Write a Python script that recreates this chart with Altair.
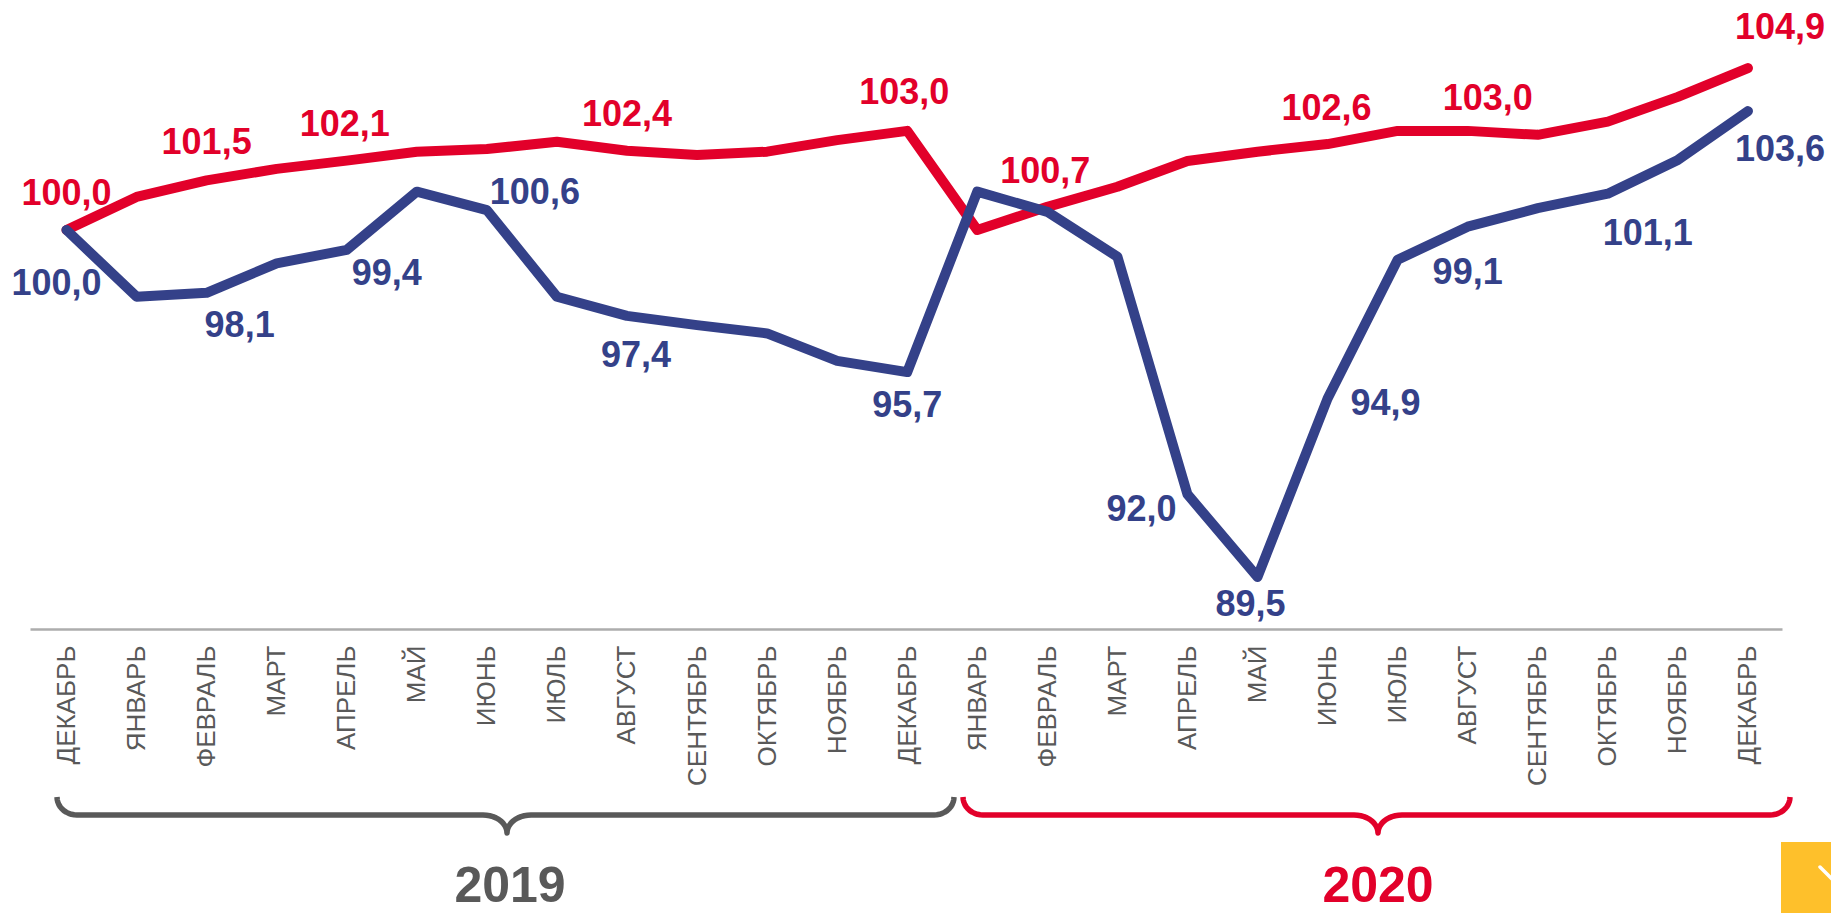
import altair as alt
import pandas as pd
import numpy as np

# ---------------- data ----------------
months = ["ДЕКАБРЬ", "ЯНВАРЬ", "ФЕВРАЛЬ", "МАРТ", "АПРЕЛЬ", "МАЙ", "ИЮНЬ", "ИЮЛЬ",
          "АВГУСТ", "СЕНТЯБРЬ", "ОКТЯБРЬ", "НОЯБРЬ", "ДЕКАБРЬ",
          "ЯНВАРЬ", "ФЕВРАЛЬ", "МАРТ", "АПРЕЛЬ", "МАЙ", "ИЮНЬ", "ИЮЛЬ",
          "АВГУСТ", "СЕНТЯБРЬ", "ОКТЯБРЬ", "НОЯБРЬ", "ДЕКАБРЬ"]

red_values = [100.0, 101.0, 101.5, 101.85, 102.1, 102.37, 102.45, 102.67, 102.4,
              102.27, 102.37, 102.72, 103.0,
              100.0, 100.7, 101.31, 102.09, 102.37, 102.6, 103.0, 103.0,
              102.88, 103.28, 104.03, 104.9]

blue_values = [100.0, 97.98, 98.1, 98.99, 99.4, 101.16, 100.6, 97.98, 97.4,
               97.12, 96.87, 96.04, 95.7,
               101.16, 100.55, 99.19, 92.0, 89.5, 94.9, 99.1, 100.1,
               100.66, 101.1, 102.12, 103.6]

red_label_idx = [0, 2, 4, 8, 12, 14, 18, 20, 24]
red_label_txt = ["100,0", "101,5", "102,1", "102,4", "103,0", "100,7", "102,6", "103,0", "104,9"]

blue_label_idx = [0, 2, 4, 6, 8, 12, 16, 17, 18, 19, 22, 24]
blue_label_txt = ["100,0", "98,1", "99,4", "100,6", "97,4", "95,7", "92,0", "89,5",
                  "94,9", "99,1", "101,1", "103,6"]

years = ["2019", "2020"]

# ---------------- style ----------------
RED = "#E2002A"
BLUE = "#344189"
GRAY = "#595959"
AXIS_GRAY = "#ADADAD"
YELLOW = "#FEC02B"
FONT = "Liberation Sans"

# label offsets (pixels) relative to their data point (centre of text)
red_offsets = [(0, -38), (0, -39), (-2, -38), (0, -38), (-3, -40), (-2, -37),
               (-1, -37), (20, -34), (32, -42)]
blue_offsets = [(-10, 52), (33, 31), (40, 22), (48, -19), (9, 38), (0, 32),
                (-46, 14), (-7, 26), (58, 3), (70, 11), (40, 38), (32, 37)]

PL, PT, PW, PH = 30, 0, 1752, 629          # plot area
X_DOM = [-0.521, 24.486]
Y_DOM = [87.924, 106.961]

df = pd.DataFrame({
    "i": list(range(len(months))) * 2,
    "v": red_values + blue_values,
    "s": ["r"] * len(red_values) + ["b"] * len(blue_values),
})

label_expr = "[" + ",".join("'" + m + "'" for m in months) + "][datum.value]"

x_enc = alt.X("i:Q", scale=alt.Scale(domain=X_DOM, nice=False, zero=False),
              axis=alt.Axis(values=list(range(len(months))), labelExpr=label_expr,
                            labelAngle=-90, labelFontSize=26, labelColor=GRAY,
                            labelFont=FONT, ticks=False, tickSize=0, labelPadding=16,
                            domainColor=AXIS_GRAY, domainWidth=2.5, grid=False,
                            title=None, labelFlush=False, labelOverlap=False))
y_enc = alt.Y("v:Q", scale=alt.Scale(domain=Y_DOM, nice=False, zero=False), axis=None)

red_line = alt.Chart(df[df.s == "r"]).mark_line(
    color=RED, strokeWidth=10, strokeCap="round", strokeJoin="round"
).encode(x=x_enc, y=y_enc)
blue_line = alt.Chart(df[df.s == "b"]).mark_line(
    color=BLUE, strokeWidth=10, strokeCap="round", strokeJoin="round"
).encode(x=alt.X("i:Q"), y=alt.Y("v:Q"))

layers = [red_line, blue_line]


def add_labels(idxs, txts, values, offsets, color):
    for k, (i, t) in enumerate(zip(idxs, txts)):
        dx, dy = offsets[k]
        d = pd.DataFrame({"i": [i], "v": [values[i]], "t": [t]})
        layers.append(
            alt.Chart(d).mark_text(
                font=FONT, fontSize=36, fontWeight="bold", color=color,
                align="center", baseline="alphabetic", dx=dx, dy=dy + 13
            ).encode(x=alt.X("i:Q"), y=alt.Y("v:Q"), text="t:N")
        )


add_labels(red_label_idx, red_label_txt, red_values, red_offsets, RED)
add_labels(blue_label_idx, blue_label_txt, blue_values, blue_offsets, BLUE)


# ---------------- braces (decoration, pixel space) ----------------
def brace(x0, xm, x1, y_top=797, y_mid=815, y_tip=833, rx=20, c=24):
    ry = y_mid - y_top
    b = y_tip - y_mid
    pts = []
    for th in np.linspace(np.pi, np.pi / 2, 12):
        pts.append((x0 + rx + rx * np.cos(th), y_top + ry * np.sin(th)))
    for th in np.linspace(-np.pi / 2, 0, 12):
        pts.append((xm - c + c * np.cos(th), y_tip + b * np.sin(th)))
    for th in np.linspace(np.pi, 1.5 * np.pi, 12):
        pts.append((xm + c + c * np.cos(th), y_tip + b * np.sin(th)))
    for th in np.linspace(np.pi / 2, 0, 12):
        pts.append((x1 - rx + rx * np.cos(th), y_top + ry * np.sin(th)))
    return pd.DataFrame({"px": [p[0] - PL for p in pts],
                         "py": [p[1] - PT for p in pts],
                         "o": list(range(len(pts)))})


for (x0, xm, x1), col in [((57, 507, 954), GRAY), ((963, 1378, 1790), RED)]:
    layers.append(
        alt.Chart(brace(x0, xm, x1)).mark_line(
            color=col, strokeWidth=5.5, strokeJoin="round", strokeCap="butt"
        ).encode(x=alt.X("px:Q", scale=None, axis=None),
                 y=alt.Y("py:Q", scale=None, axis=None),
                 order="o:Q")
    )

year_df = pd.DataFrame({"t": years, "px": [510 - PL, 1378 - PL], "py": [902, 902],
                        "c": [GRAY, RED]})
layers.append(
    alt.Chart(year_df).mark_text(
        font=FONT, fontSize=50, fontWeight="bold", align="center", baseline="alphabetic"
    ).encode(x=alt.X("px:Q", scale=None, axis=None),
             y=alt.Y("py:Q", scale=None, axis=None),
             text="t:N",
             color=alt.Color("c:N", scale=None))
)

# yellow corner button
layers.append(
    alt.Chart(pd.DataFrame({"a": [0]})).mark_rect(color=YELLOW).encode(
        x=alt.value(1781 - PL), x2=alt.value(1850 - PL),
        y=alt.value(842), y2=alt.value(930))
)
layers.append(
    alt.Chart(pd.DataFrame({"a": [0]})).mark_rule(color="white", strokeWidth=3.5,
                                                  strokeCap="round").encode(
        x=alt.value(1820 - PL), x2=alt.value(1845 - PL),
        y=alt.value(867), y2=alt.value(892))
)

chart = alt.layer(*layers).properties(
    width=PW, height=PH,
    padding={"left": PL, "top": PT, "right": 1831 - PL - PW, "bottom": 913 - PT - PH},
    autosize=alt.AutoSizeParams(type="none"),
    background="white",
).configure_view(stroke=None)

chart.save("out.html", embed_options={"renderer": "svg", "actions": False})
